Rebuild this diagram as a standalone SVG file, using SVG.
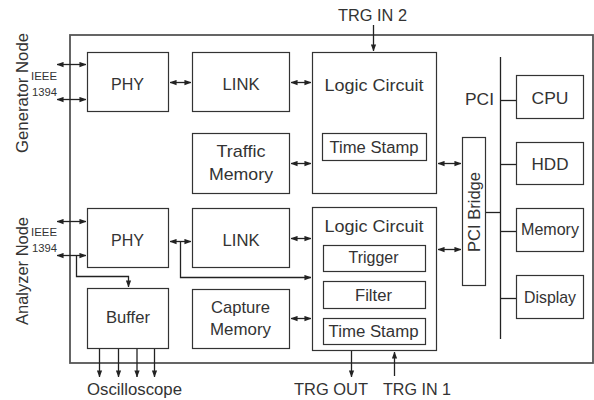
<svg xmlns="http://www.w3.org/2000/svg" width="594" height="400" viewBox="0 0 594 400">
  <defs>
    <style>
      .box { fill: #fff; stroke: #333; stroke-width: 1.2; }
      .frame { fill: none; stroke: #555; stroke-width: 1.8; }
      .ln { fill: none; stroke: #222; stroke-width: 1.3; }
      text { font-family: "Liberation Sans", Arial, sans-serif; fill: #333; }
      .lbl { font-size: 17px; text-anchor: middle; }
      .sub { font-size: 16px; text-anchor: middle; }
      .small { font-size: 11px; }
    </style>
    <marker id="ah" viewBox="0 0 8 6" refX="7.5" refY="3" markerWidth="7" markerHeight="6" markerUnits="userSpaceOnUse" orient="auto-start-reverse">
      <path d="M0,0 L8,3 L0,6 Z" fill="#222"/>
    </marker>
  </defs>

  <!-- system frame -->
  <rect class="frame" x="70" y="35" width="523" height="328"/>

  <!-- side labels -->
  <text class="lbl" transform="translate(28,93) rotate(-90)" textLength="120" lengthAdjust="spacingAndGlyphs">Generator Node</text>
  <text class="lbl" transform="translate(28,271) rotate(-90)" textLength="108" lengthAdjust="spacingAndGlyphs">Analyzer Node</text>
  <text class="small" x="31" y="80" textLength="26" lengthAdjust="spacingAndGlyphs">IEEE</text>
  <text class="small" x="32" y="96" textLength="25" lengthAdjust="spacingAndGlyphs">1394</text>
  <text class="small" x="31" y="236" textLength="26" lengthAdjust="spacingAndGlyphs">IEEE</text>
  <text class="small" x="32" y="252" textLength="25" lengthAdjust="spacingAndGlyphs">1394</text>

  <!-- generator node -->
  <g id="gen-phy">
    <rect class="box" x="87.5" y="52.5" width="81" height="59"/>
    <text class="lbl" x="127.5" y="90" textLength="33" lengthAdjust="spacingAndGlyphs">PHY</text>
  </g>
  <g id="gen-link">
    <rect class="box" x="192.5" y="52.5" width="97" height="59"/>
    <text class="lbl" x="241" y="90" textLength="37" lengthAdjust="spacingAndGlyphs">LINK</text>
  </g>
  <g id="gen-logic">
    <rect class="box" x="312.5" y="52.5" width="124" height="141"/>
    <text class="lbl" x="374" y="91" textLength="99" lengthAdjust="spacingAndGlyphs">Logic Circuit</text>
    <rect class="box" x="322.5" y="133.5" width="104" height="27"/>
    <text class="sub" x="374" y="153" textLength="89" lengthAdjust="spacingAndGlyphs">Time Stamp</text>
  </g>
  <g id="gen-traffic">
    <rect class="box" x="192.5" y="133.5" width="97" height="60"/>
    <text class="lbl" x="241" y="157" textLength="49" lengthAdjust="spacingAndGlyphs">Traffic</text>
    <text class="lbl" x="241" y="180" textLength="64" lengthAdjust="spacingAndGlyphs">Memory</text>
  </g>

  <!-- analyzer node -->
  <g id="an-phy">
    <rect class="box" x="87.5" y="208.5" width="81" height="59"/>
    <text class="lbl" x="127.5" y="246" textLength="33" lengthAdjust="spacingAndGlyphs">PHY</text>
  </g>
  <g id="an-link">
    <rect class="box" x="192.5" y="208.5" width="97" height="59"/>
    <text class="lbl" x="241" y="246" textLength="37" lengthAdjust="spacingAndGlyphs">LINK</text>
  </g>
  <g id="an-logic">
    <rect class="box" x="312.5" y="207.5" width="124" height="143"/>
    <text class="lbl" x="374" y="232" textLength="99" lengthAdjust="spacingAndGlyphs">Logic Circuit</text>
    <rect class="box" x="323.5" y="245.5" width="102" height="26"/>
    <text class="sub" x="373.5" y="263" textLength="50" lengthAdjust="spacingAndGlyphs">Trigger</text>
    <rect class="box" x="323.5" y="281.5" width="102" height="27"/>
    <text class="sub" x="373.5" y="301" textLength="37" lengthAdjust="spacingAndGlyphs">Filter</text>
    <rect class="box" x="323.5" y="318.5" width="102" height="26"/>
    <text class="sub" x="373.5" y="337" textLength="90" lengthAdjust="spacingAndGlyphs">Time Stamp</text>
  </g>
  <g id="an-buffer">
    <rect class="box" x="87.5" y="288.5" width="81" height="60"/>
    <text class="lbl" x="128" y="323" textLength="44" lengthAdjust="spacingAndGlyphs">Buffer</text>
  </g>
  <g id="an-capture">
    <rect class="box" x="192.5" y="289.5" width="97" height="59"/>
    <text class="lbl" x="240.5" y="313" textLength="59" lengthAdjust="spacingAndGlyphs">Capture</text>
    <text class="lbl" x="240.5" y="335" textLength="61" lengthAdjust="spacingAndGlyphs">Memory</text>
  </g>

  <!-- PCI side -->
  <g id="pci-bridge">
    <rect class="box" x="462.5" y="137.5" width="23" height="148"/>
    <text class="lbl" transform="translate(480,212) rotate(-90)" textLength="80" lengthAdjust="spacingAndGlyphs">PCI Bridge</text>
  </g>
  <g id="cpu">
    <rect class="box" x="516.5" y="75.5" width="67" height="43"/>
    <text class="lbl" x="550" y="104" textLength="37" lengthAdjust="spacingAndGlyphs">CPU</text>
  </g>
  <g id="hdd">
    <rect class="box" x="516.5" y="142.5" width="67" height="42"/>
    <text class="lbl" x="550" y="170" textLength="37" lengthAdjust="spacingAndGlyphs">HDD</text>
  </g>
  <g id="memory">
    <rect class="box" x="516.5" y="208.5" width="67" height="43"/>
    <text class="lbl" x="550" y="235" textLength="58" lengthAdjust="spacingAndGlyphs">Memory</text>
  </g>
  <g id="display">
    <rect class="box" x="516.5" y="275.5" width="67" height="43"/>
    <text class="lbl" x="550" y="303" textLength="52" lengthAdjust="spacingAndGlyphs">Display</text>
  </g>

  <!-- external signal labels -->
  <text class="lbl" x="372.5" y="21" textLength="69" lengthAdjust="spacingAndGlyphs">TRG IN 2</text>
  <text class="lbl" x="331" y="395" textLength="74" lengthAdjust="spacingAndGlyphs">TRG OUT</text>
  <text class="lbl" x="417" y="395" textLength="68" lengthAdjust="spacingAndGlyphs">TRG IN 1</text>
  <text class="lbl" x="134.5" y="395" textLength="95" lengthAdjust="spacingAndGlyphs">Oscilloscope</text>
  <text class="lbl" x="479.5" y="105" textLength="29" lengthAdjust="spacingAndGlyphs">PCI</text>

  <!-- connectors -->
  <g id="connectors">
    <!-- generator -->
    <line class="ln" x1="57" y1="64.5" x2="86" y2="64.5" marker-start="url(#ah)" marker-end="url(#ah)"/>
    <line class="ln" x1="57" y1="99.5" x2="86" y2="99.5" marker-start="url(#ah)" marker-end="url(#ah)"/>
    <line class="ln" x1="170" y1="82.5" x2="191" y2="82.5" marker-start="url(#ah)" marker-end="url(#ah)"/>
    <line class="ln" x1="291" y1="82.5" x2="311" y2="82.5" marker-start="url(#ah)" marker-end="url(#ah)"/>
    <line class="ln" x1="291" y1="163.5" x2="311" y2="163.5" marker-start="url(#ah)" marker-end="url(#ah)"/>
    <line class="ln" x1="373.5" y1="25" x2="373.5" y2="51" marker-end="url(#ah)"/>
    <line class="ln" x1="438" y1="163.5" x2="461" y2="163.5" marker-start="url(#ah)" marker-end="url(#ah)"/>

    <!-- analyzer -->
    <line class="ln" x1="57" y1="221.5" x2="86" y2="221.5" marker-start="url(#ah)" marker-end="url(#ah)"/>
    <line class="ln" x1="57" y1="255.5" x2="86" y2="255.5" marker-start="url(#ah)" marker-end="url(#ah)"/>
    <path class="ln" d="M76.5,255.5 V276.5 H128.5 V287" marker-end="url(#ah)"/>
    <line class="ln" x1="170" y1="241.5" x2="191" y2="241.5" marker-start="url(#ah)" marker-end="url(#ah)"/>
    <path class="ln" d="M180.5,241.5 V277.5 H311" marker-end="url(#ah)"/>
    <line class="ln" x1="291" y1="238.5" x2="311" y2="238.5" marker-start="url(#ah)" marker-end="url(#ah)"/>
    <line class="ln" x1="291" y1="318.5" x2="311" y2="318.5" marker-start="url(#ah)" marker-end="url(#ah)"/>
    <line class="ln" x1="438" y1="249.5" x2="461" y2="249.5" marker-start="url(#ah)" marker-end="url(#ah)"/>
    <line class="ln" x1="351.5" y1="351" x2="351.5" y2="377" marker-end="url(#ah)"/>
    <line class="ln" x1="394.5" y1="376" x2="394.5" y2="352" marker-end="url(#ah)"/>
    <line class="ln" x1="99.5" y1="349" x2="99.5" y2="377" marker-end="url(#ah)"/>
    <line class="ln" x1="118.5" y1="349" x2="118.5" y2="377" marker-end="url(#ah)"/>
    <line class="ln" x1="137" y1="349" x2="137" y2="377" marker-end="url(#ah)"/>
    <line class="ln" x1="154.5" y1="349" x2="154.5" y2="377" marker-end="url(#ah)"/>

    <!-- PCI bus -->
    <line class="ln" x1="500.5" y1="57" x2="500.5" y2="339"/>
    <line class="ln" x1="486" y1="212.5" x2="500.5" y2="212.5"/>
    <line class="ln" x1="500.5" y1="100.5" x2="516" y2="100.5"/>
    <line class="ln" x1="500.5" y1="164.5" x2="516" y2="164.5"/>
    <line class="ln" x1="500.5" y1="231.5" x2="516" y2="231.5"/>
    <line class="ln" x1="500.5" y1="298.5" x2="516" y2="298.5"/>
  </g>
</svg>
